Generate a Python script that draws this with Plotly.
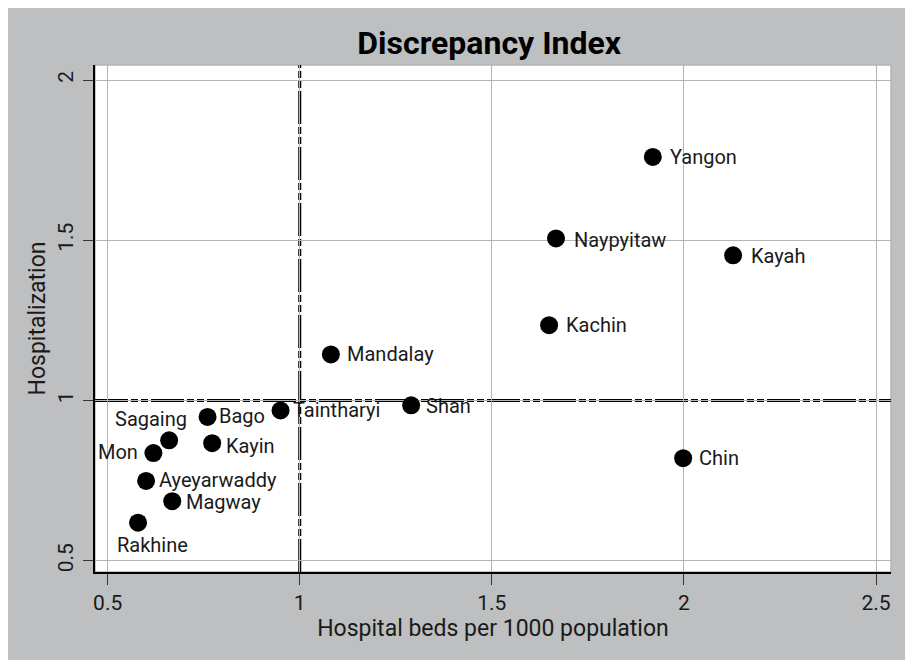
import plotly.graph_objects as go

# ---- data ----
regions = ["Yangon", "Naypyitaw", "Kayah", "Kachin", "Mandalay", "Shan", "Chin",
           "Taintharyi", "Bago", "Sagaing", "Kayin", "Mon", "Ayeyarwaddy", "Magway", "Rakhine"]
beds_per_1000 = [1.919, 1.667, 2.128, 1.649, 1.081, 1.290, 1.998,
                 0.950, 0.760, 0.660, 0.772, 0.619, 0.600, 0.668, 0.579]
hospitalization = [1.760, 1.506, 1.453, 1.235, 1.144, 0.985, 0.820,
                   0.969, 0.949, 0.876, 0.867, 0.836, 0.749, 0.686, 0.619]
x_ticks = [0.5, 1, 1.5, 2, 2.5]
y_ticks = [0.5, 1, 1.5, 2]
ref_x = 1
ref_y = 1

# ---- label placement (styles) ----
label_style = {
    "Yangon": ("left", 16, 0),
    "Naypyitaw": ("left", 17, -2),
    "Kayah": ("left", 17, -1),
    "Kachin": ("left", 16, 0),
    "Mandalay": ("left", 15, 0),
    "Shan": ("left", 14, -1),
    "Chin": ("left", 15, 0),
    "Taintharyi": ("left", 11, 0),
    "Bago": ("left", 10, 1),
    "Sagaing": ("right", 19, 21),
    "Kayin": ("left", 13, -3),
    "Mon": ("right", -14, 1),
    "Ayeyarwaddy": ("left", 12, 1),
    "Magway": ("left", 13, -1),
    "Rakhine": ("center", 14, -22),
}

FONT = "Roboto, DejaVu Sans, sans-serif"
AXFONT = "Roboto, DejaVu Sans, sans-serif"
GRID = "#b4b4b4"
BG = "#bebfc1"
TXT = "#1a1a1a"

fig = go.Figure()
fig.add_trace(go.Scatter(
    x=beds_per_1000, y=hospitalization, mode="markers",
    marker=dict(size=18, color="black"),
    hoverinfo="skip", showlegend=False,
))

annotations = []
for name, xv, yv in zip(regions, beds_per_1000, hospitalization):
    anchor, xs, ys = label_style[name]
    annotations.append(dict(
        x=xv, y=yv, xref="x", yref="y", text=name, showarrow=False,
        xanchor=anchor, yanchor="middle", xshift=xs, yshift=ys, borderpad=0,
        font=dict(family=FONT, size=20, color=TXT),
    ))

DASH = "33px,3px,7px,3px,7px,3px"
shapes = [
    # outer gray background
    dict(type="rect", xref="paper", yref="paper", x0=-0.2, x1=1.1, y0=-0.1736, y1=1.2,
         fillcolor=BG, line=dict(width=0), layer="below"),
    # white plot region with gray outline
    dict(type="rect", xref="paper", yref="paper", x0=0, x1=1, y0=0, y1=1,
         fillcolor="white", line=dict(color=GRID, width=1.5), layer="below"),
    # reference lines
    dict(type="line", xref="x", yref="paper", x0=ref_x, x1=ref_x, y0=0, y1=1,
         line=dict(color="black", width=3, dash=DASH), layer="below"),
    dict(type="line", xref="paper", yref="y", x0=0, x1=1, y0=ref_y, y1=ref_y,
         line=dict(color="black", width=3, dash=DASH), layer="below"),
]

fig.update_layout(
    width=913, height=663,
    margin=dict(l=87, r=30, t=57, b=99),
    paper_bgcolor="white", plot_bgcolor="rgba(0,0,0,0)",
    title=dict(text="<b>Discrepancy Index</b>", x=0.527, xanchor="center",
               y=0.948, yanchor="middle",
               font=dict(family=FONT, size=32, color="black")),
    shapes=shapes, annotations=annotations,
    xaxis=dict(range=[0.467, 2.539], tickvals=x_ticks, ticktext=[f"{v:g}" for v in x_ticks],
               showgrid=True, gridcolor=GRID, gridwidth=1.3, zeroline=False,
               showline=True, linecolor="black", linewidth=1.5,
               ticks="outside", ticklen=11, tickcolor="#333333", tickwidth=1.3,
               tickfont=dict(family=AXFONT, size=21, color=TXT),
               title=dict(text="Hospital beds per 1000 population", standoff=5,
                          font=dict(family=AXFONT, size=23, color=TXT))),
    yaxis=dict(range=[0.465, 2.047], tickvals=y_ticks, ticktext=[f"{v:g}" for v in y_ticks],
               showgrid=True, gridcolor=GRID, gridwidth=1.3, zeroline=False,
               showline=True, linecolor="black", linewidth=1.5,
               ticks="outside", ticklen=10, tickcolor="#333333", tickwidth=1.3,
               tickangle=-90, ticklabelstandoff=2,
               tickfont=dict(family=AXFONT, size=21, color=TXT),
               title=dict(text="Hospitalization", standoff=2,
                          font=dict(family=AXFONT, size=23, color=TXT))),
)

fig.write_html("out.html")
